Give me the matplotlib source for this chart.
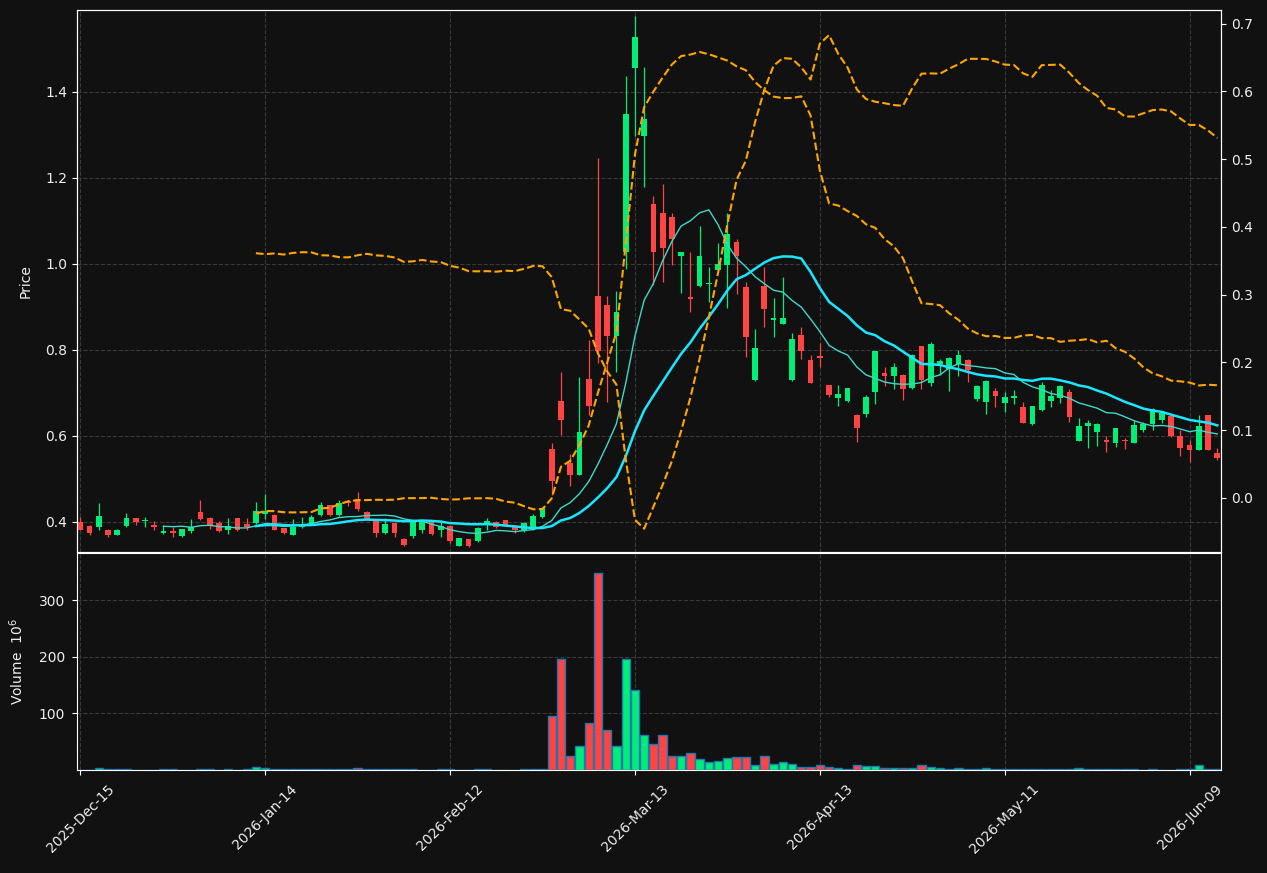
import matplotlib
matplotlib.use('Agg')
import matplotlib.pyplot as plt
import numpy as np
import pandas as pd

# trading days (NYSE calendar)
holidays = ['2025-12-25', '2026-01-01', '2026-01-19', '2026-02-16',
            '2026-04-03', '2026-05-25']
dates = pd.bdate_range('2025-12-15', '2026-06-12', freq='C', holidays=holidays)

opens = [0.400, 0.391, 0.389, 0.381, 0.370, 0.391, 0.409, 0.401, 0.393, 0.373,
         0.379, 0.368, 0.379, 0.422, 0.410, 0.397, 0.380, 0.410, 0.395, 0.397,
         0.419, 0.416, 0.386, 0.370, 0.387, 0.395, 0.415, 0.440, 0.415, 0.447,
         0.453, 0.423, 0.401, 0.374, 0.398, 0.360, 0.368, 0.381, 0.401, 0.380,
         0.391, 0.345, 0.360, 0.356, 0.398, 0.400, 0.405, 0.391, 0.381, 0.383,
         0.412, 0.570, 0.681, 0.537, 0.509, 0.732, 0.925, 0.903, 0.831, 1.027,
         1.456, 1.296, 1.140, 1.118, 1.108, 1.017, 0.921, 0.949, 0.952, 0.986,
         0.998, 1.050, 0.945, 0.730, 0.949, 0.869, 0.861, 0.730, 0.835, 0.777,
         0.783, 0.718, 0.689, 0.680, 0.649, 0.651, 0.703, 0.747, 0.738, 0.742,
         0.712, 0.809, 0.724, 0.767, 0.755, 0.767, 0.777, 0.686, 0.678, 0.705,
         0.676, 0.689, 0.666, 0.628, 0.659, 0.682, 0.689, 0.701, 0.589, 0.624,
         0.608, 0.588, 0.584, 0.589, 0.584, 0.614, 0.628, 0.637, 0.647, 0.600,
         0.579, 0.567, 0.649, 0.560]
highs = [0.412, 0.393, 0.443, 0.383, 0.383, 0.420, 0.410, 0.412, 0.401, 0.393,
         0.388, 0.384, 0.406, 0.451, 0.412, 0.401, 0.408, 0.410, 0.408, 0.447,
         0.465, 0.418, 0.386, 0.407, 0.412, 0.416, 0.447, 0.440, 0.450, 0.451,
         0.469, 0.425, 0.401, 0.408, 0.400, 0.362, 0.404, 0.405, 0.403, 0.405,
         0.393, 0.362, 0.361, 0.388, 0.408, 0.401, 0.405, 0.392, 0.400, 0.418,
         0.435, 0.584, 0.748, 0.558, 0.736, 0.823, 1.247, 0.926, 0.937, 1.437,
         1.575, 1.457, 1.158, 1.186, 1.118, 1.027, 1.027, 1.088, 0.992, 1.048,
         1.118, 1.057, 0.957, 0.848, 0.992, 0.920, 0.969, 0.839, 0.853, 0.787,
         0.815, 0.719, 0.718, 0.711, 0.650, 0.695, 0.798, 0.759, 0.769, 0.743,
         0.790, 0.810, 0.818, 0.779, 0.783, 0.799, 0.778, 0.719, 0.729, 0.712,
         0.701, 0.707, 0.678, 0.670, 0.725, 0.707, 0.718, 0.708, 0.641, 0.637,
         0.631, 0.600, 0.619, 0.594, 0.637, 0.633, 0.664, 0.658, 0.648, 0.614,
         0.591, 0.649, 0.649, 0.571]
lows = [0.380, 0.370, 0.381, 0.366, 0.370, 0.388, 0.393, 0.389, 0.381, 0.372,
        0.365, 0.366, 0.374, 0.405, 0.383, 0.376, 0.372, 0.379, 0.381, 0.395,
        0.407, 0.380, 0.372, 0.369, 0.386, 0.393, 0.413, 0.413, 0.413, 0.436,
        0.426, 0.404, 0.366, 0.371, 0.366, 0.345, 0.363, 0.374, 0.369, 0.366,
        0.352, 0.344, 0.342, 0.354, 0.380, 0.385, 0.391, 0.374, 0.376, 0.382,
        0.408, 0.463, 0.603, 0.483, 0.508, 0.649, 0.770, 0.679, 0.748, 0.988,
        1.296, 1.178, 0.950, 0.958, 0.998, 0.932, 0.887, 0.947, 0.910, 0.985,
        0.898, 0.929, 0.784, 0.728, 0.853, 0.829, 0.861, 0.728, 0.778, 0.723,
        0.760, 0.690, 0.670, 0.679, 0.586, 0.643, 0.674, 0.717, 0.709, 0.684,
        0.710, 0.709, 0.717, 0.742, 0.705, 0.738, 0.725, 0.681, 0.650, 0.668,
        0.655, 0.674, 0.630, 0.626, 0.657, 0.666, 0.676, 0.633, 0.589, 0.571,
        0.577, 0.562, 0.574, 0.569, 0.583, 0.609, 0.614, 0.629, 0.598, 0.554,
        0.540, 0.566, 0.566, 0.543]
closes = [0.382, 0.374, 0.414, 0.370, 0.381, 0.409, 0.399, 0.403, 0.387, 0.379,
          0.373, 0.384, 0.389, 0.407, 0.391, 0.378, 0.391, 0.380, 0.388, 0.426,
          0.426, 0.381, 0.373, 0.389, 0.395, 0.412, 0.440, 0.415, 0.444, 0.445,
          0.430, 0.407, 0.374, 0.395, 0.374, 0.347, 0.402, 0.401, 0.371, 0.391,
          0.356, 0.362, 0.344, 0.385, 0.402, 0.387, 0.393, 0.381, 0.398, 0.414,
          0.432, 0.495, 0.637, 0.509, 0.609, 0.669, 0.798, 0.833, 0.887, 1.348,
          1.528, 1.336, 1.027, 1.037, 1.057, 1.027, 0.919, 1.019, 0.955, 1.000,
          1.070, 1.017, 0.829, 0.805, 0.896, 0.875, 0.875, 0.826, 0.798, 0.724,
          0.781, 0.695, 0.698, 0.711, 0.619, 0.690, 0.797, 0.738, 0.760, 0.709,
          0.788, 0.729, 0.814, 0.774, 0.781, 0.788, 0.753, 0.715, 0.728, 0.692,
          0.690, 0.691, 0.631, 0.670, 0.719, 0.693, 0.716, 0.643, 0.622, 0.631,
          0.628, 0.586, 0.618, 0.587, 0.626, 0.628, 0.662, 0.653, 0.600, 0.571,
          0.567, 0.622, 0.567, 0.548]
# volume in millions
volumes = [0.3, 0.3, 3.9, 1.5, 1.5, 1.5, 0.3, 0.3, 0.3, 1.5,
           1.5, 0.3, 0.3, 1.5, 1.5, 0.3, 1.5, 0.3, 1.5, 5.7,
           3.9, 1.5, 1.5, 1.5, 1.5, 1.5, 1.5, 1.5, 1.5, 1.5,
           3.9, 1.5, 1.5, 1.5, 1.5, 1.5, 1.5, 0.3, 0.3, 1.5,
           1.5, 0.3, 0.3, 1.5, 1.5, 0.3, 0.3, 0.3, 1.5, 1.5,
           1.5, 95.0, 197.0, 24.0, 42.0, 83.5, 349.0, 70.5, 42.0, 197.0,
           141.0, 61.6, 46.4, 61.6, 24.4, 24.4, 30.4, 19.1, 13.8, 15.6,
           20.9, 22.7, 22.7, 8.5, 24.4, 10.3, 13.8, 10.3, 5.0, 5.0,
           8.5, 5.0, 3.0, 1.0, 8.0, 6.8, 7.4, 3.3, 3.3, 3.3,
           3.3, 8.0, 5.7, 3.9, 1.5, 3.9, 1.5, 1.5, 3.9, 1.5,
           1.5, 1.5, 1.5, 1.5, 1.5, 1.5, 1.5, 1.5, 3.9, 1.5,
           1.5, 1.5, 1.5, 1.5, 1.5, 0.3, 1.5, 0.3, 0.3, 1.5,
           1.5, 8.0, 1.5, 1.5]

df = pd.DataFrame({'Open': opens, 'High': highs, 'Low': lows,
                   'Close': closes, 'Volume': volumes}, index=dates)
df['mav10'] = df['Close'].rolling(10).mean()
df['mav20'] = df['Close'].rolling(20).mean()
std20 = df['Close'].rolling(20).std(ddof=0)
df['bb_up'] = df['mav20'] + 2 * std20
df['bb_lo'] = df['mav20'] - 2 * std20

bg = '#111111'
up_col = '#00ee77'
dn_col = '#ff4444'
txt = '#eeeeee'
grid_kw = dict(color='#3a3a3a', linestyle='--', linewidth=0.8)

fig = plt.figure(figsize=(12.67, 8.73), dpi=100, facecolor=bg)
ax = fig.add_axes([0.0608, 0.3677, 0.9029, 0.6209], facecolor=bg)
axv = fig.add_axes([0.0608, 0.1180, 0.9029, 0.2486], facecolor=bg, sharex=ax)

x = np.arange(len(df))
is_up = (df['Close'] >= df['Open']).values
cols = np.where(is_up, up_col, dn_col)

# candles
ax.vlines(x, df['Low'], df['High'], colors=cols, linewidth=0.9, zorder=2)
body = (df['Close'] - df['Open']).abs().clip(lower=0.004)
ax.bar(x, body, bottom=np.minimum(df['Open'], df['Close']), width=0.62,
       color=cols, zorder=3)

# moving averages and bollinger bands (lower one on the right axis)
ax.plot(x, df['mav10'], color='#40d8c8', linewidth=1.0, zorder=4)
ax.plot(x, df['mav20'], color='#19e6ff', linewidth=1.8, zorder=4)
ax.plot(x, df['bb_up'], color='orange', linestyle='--', linewidth=1.5, zorder=4)
ax2 = ax.twinx()
ax2.plot(x, df['bb_lo'], color='orange', linestyle='--', linewidth=1.5)
ax2.set_ylim(-0.08, 0.72)

ax.set_xlim(-0.35, len(df) - 0.6)
ax.set_ylim(0.33, 1.59)
ax.set_ylabel('Price', color=txt, fontsize=10, labelpad=9)
ax.grid(True, **grid_kw)
ax.set_axisbelow(True)
ax.tick_params(axis='x', labelbottom=False, colors='white')
ax.tick_params(axis='y', colors='white', labelcolor=txt, labelsize=10)

# volume
axv.bar(x, df['Volume'], width=0.9, color=cols, edgecolor='#1f77b4',
        linewidth=1.0, zorder=3)
axv.set_ylim(0, df['Volume'].max() * 1.1)
axv.set_yticks([100, 200, 300])
axv.set_ylabel('Volume  $10^{6}$', color=txt, fontsize=10, labelpad=9)
axv.grid(True, **grid_kw)
axv.set_axisbelow(True)
tick_pos = list(range(0, len(df), 20))
axv.set_xticks(tick_pos)
axv.set_xticklabels([dates[i].strftime('%Y-%b-%d') for i in tick_pos],
                    rotation=45, fontsize=10)
axv.tick_params(colors='white', labelcolor=txt, labelsize=10, pad=5)

ax2.tick_params(colors='white', labelcolor=txt, labelsize=10)
for a in (ax, ax2, axv):
    for s in a.spines.values():
        s.set_color('white')

fig.savefig('out.png', dpi=100, facecolor=bg)
